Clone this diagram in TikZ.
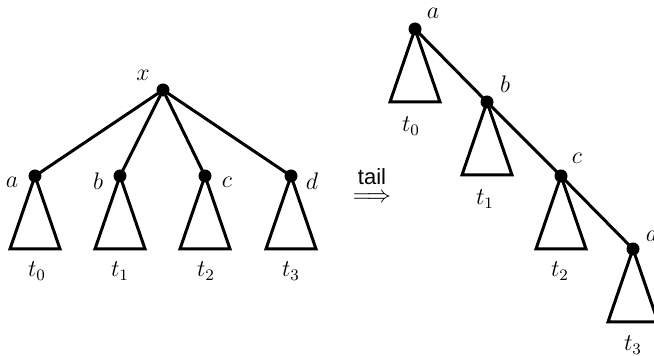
\documentclass[tikz,border=0pt]{standalone}
\usepackage{fontspec}
\newfontfamily\helv{Liberation Sans}
\begin{document}
\begin{tikzpicture}[x=0.5pt,y=-0.5pt,
  dot/.style={circle,fill=black,inner sep=0pt,minimum size=6.5pt},
  edge/.style={line width=1.5pt},
  lbl/.style={font=\fontsize{12}{14}\selectfont,inner sep=0pt},
  tri/.style={line width=1.5pt,line join=miter}]
\useasboundingbox (0,0) rectangle (654,356);
% left tree
\node[dot] (x) at (163,90) {};
\node[dot] (a) at (35,176) {};
\node[dot] (b) at (120,176) {};
\node[dot] (c) at (205,176) {};
\node[dot] (d) at (291,176) {};
\draw[edge] (x.center) -- (a.center);
\draw[edge] (x.center) -- (b.center);
\draw[edge] (x.center) -- (c.center);
\draw[edge] (x.center) -- (d.center);
\foreach \n in {a,b,c,d}{
  \draw[tri] (\n.center) -- ++(-25,73) -- ++(50,0) -- cycle;
}
\node[lbl] (lx) at (143,75) {$x$};
\node[lbl] (la) at (12,182) {$a$};
\node[lbl] (lb) at (98,181) {$b$};
\node[lbl] (lc) at (227,182) {$c$};
\node[lbl] (ld) at (312,181) {$d$};
\node[lbl] (t0) at (37,271) {$t_0$};
\node[lbl] (t1) at (120,271) {$t_1$};
\node[lbl] (t2) at (206,271) {$t_2$};
\node[lbl] (t3) at (291,271) {$t_3$};
% arrow
\node[lbl,align=center] (tail) at (372,186)
  {{\helv\fontsize{11}{13}\selectfont tail}\\[-5pt]$\Longrightarrow$};
% right tree
\node[dot] (ra) at (415,29) {};
\node[dot] (rb) at (487,102) {};
\node[dot] (rc) at (561,176) {};
\node[dot] (rd) at (633,249) {};
\draw[edge] (ra.center) -- (rb.center) -- (rc.center) -- (rd.center);
\foreach \n in {ra,rb,rc,rd}{
  \draw[tri] (\n.center) -- ++(-25,73) -- ++(50,0) -- cycle;
}
\node[lbl] (lra) at (433,13) {$a$};
\node[lbl] (lrb) at (505,84) {$b$};
\node[lbl] (lrc) at (577,158) {$c$};
\node[lbl] (lrd) at (652,233) {$d$};
\node[lbl] (rt0) at (411,126) {$t_0$};
\node[lbl] (rt1) at (485,199) {$t_1$};
\node[lbl] (rt2) at (560,271) {$t_2$};
\node[lbl] (rt3) at (633,345) {$t_3$};
\end{tikzpicture}
\end{document}
